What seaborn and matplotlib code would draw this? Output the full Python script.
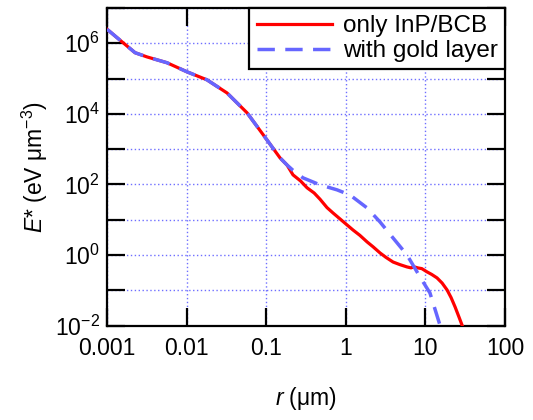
import numpy as np
import pandas as pd
import matplotlib
matplotlib.use("Agg")
import matplotlib.pyplot as plt
import matplotlib.ticker as mticker
import seaborn as sns

# shared part of both curves (r in um, E* in eV um^-3)
r_common = [0.001, 0.00154, 0.00225, 0.00318, 0.00568, 0.0101, 0.0180, 0.0322,
            0.0574, 0.102, 0.149, 0.182]
e_common = [2.5e6, 1.10e6, 5.4e5, 4.1e5, 2.8e5, 1.55e5, 9.2e4, 3.9e4,
            1.07e4, 1.83e3, 565, 357]

# tail for "only InP/BCB"
r_red = [0.217, 0.27, 0.326, 0.40, 0.474, 0.58, 0.690, 0.845, 1.035, 1.23, 1.5,
         1.85, 2.2, 2.69, 3.2, 3.92, 4.8, 5.87, 6.6, 7.2, 8.07, 9.0, 10.5, 12.0,
         14.0, 16.2, 18.7, 21.0, 23.6, 26.5, 29.5]
e_red = [186, 125, 80, 57, 38, 22, 15.5, 10.5, 7.1, 5.1, 3.6,
         2.34, 1.7, 1.14, 0.85, 0.63, 0.53, 0.457, 0.43, 0.46, 0.428, 0.41, 0.33, 0.28,
         0.223, 0.16, 0.102, 0.062, 0.0335, 0.017, 0.009]

# tail for "with gold layer"
r_blue = [0.217, 0.290, 0.474, 0.775, 1.13, 1.85, 2.69, 3.92, 5.87, 8.55, 11.4, 15.5]
e_blue = [250, 153, 97, 70, 50, 21.5, 8.6, 3.03, 1.0, 0.238, 0.0836, 0.009]

labels = ["only InP/BCB", "with gold layer"]

df = pd.concat([
    pd.DataFrame({"r": r_common + r_red, "E": e_common + e_red, "case": labels[0]}),
    pd.DataFrame({"r": r_common + r_blue, "E": e_common + e_blue, "case": labels[1]}),
], ignore_index=True)

plt.rcParams["font.family"] = ["Liberation Sans", "DejaVu Sans"]
plt.rcParams["mathtext.fontset"] = "custom"
plt.rcParams["mathtext.rm"] = "Liberation Sans"
plt.rcParams["mathtext.it"] = "Liberation Sans:italic"

fig = plt.figure(figsize=(5.33, 4.20), dpi=100)
ax = fig.add_axes([0.2008, 0.225, 0.9475 - 0.2008, 0.981 - 0.225])

sns.lineplot(data=df[df["case"] == labels[0]], x="r", y="E", color="#ff0000",
             linewidth=2.3, sort=False, label=labels[0], ax=ax, zorder=3)
sns.lineplot(data=df[df["case"] == labels[1]], x="r", y="E", color="#6666ff",
             linewidth=2.5, linestyle=(0, (5, 3)), sort=False, label=labels[1],
             ax=ax, zorder=4)

ax.set_xscale("log")
ax.set_yscale("log")
ax.set_xlim(0.001, 100)
ax.set_ylim(1e-2, 1e7)

ax.xaxis.set_major_locator(mticker.LogLocator(base=10, numticks=20))
ax.xaxis.set_minor_locator(mticker.NullLocator())
ax.xaxis.set_major_formatter(mticker.FuncFormatter(lambda v, p: f"{v:g}"))
ax.yaxis.set_major_locator(mticker.FixedLocator([10.0 ** k for k in range(-2, 8)]))
ax.yaxis.set_minor_locator(mticker.NullLocator())


def yfmt(v, p):
    k = int(round(np.log10(v)))
    if k % 2 == 0 and k <= 6:
        return r"$\mathregular{10^{%d}}$" % k
    return ""


ax.yaxis.set_major_formatter(mticker.FuncFormatter(yfmt))

ax.tick_params(which="major", direction="in", length=13, width=1.6,
               top=True, right=True, labelsize=16.5)
ax.tick_params(axis="x", pad=8)
ax.tick_params(axis="y", pad=5)
for s in ax.spines.values():
    s.set_linewidth(1.6)

ax.grid(True, which="major", color="#6f6fff", linestyle=(0, (1, 1.8)), linewidth=1.0)

ax.set_xlabel(r"$\mathit{r}$ (μm)", fontsize=16.5, labelpad=18)
ax.set_ylabel(r"$\mathit{E}$* (eV μm$^{-3}$)", fontsize=16.5, labelpad=4)

leg = ax.legend(loc="upper right", bbox_to_anchor=(1.0, 1.0), borderaxespad=0,
                fontsize=17.5, frameon=True, fancybox=False, framealpha=1,
                edgecolor="black", handlelength=3.1, handletextpad=0.45,
                labelspacing=0.1, borderpad=0.3, handleheight=0.6)
leg.get_frame().set_linewidth(1.6)
leg.set_zorder(10)

fig.savefig("out.png", dpi=100)
